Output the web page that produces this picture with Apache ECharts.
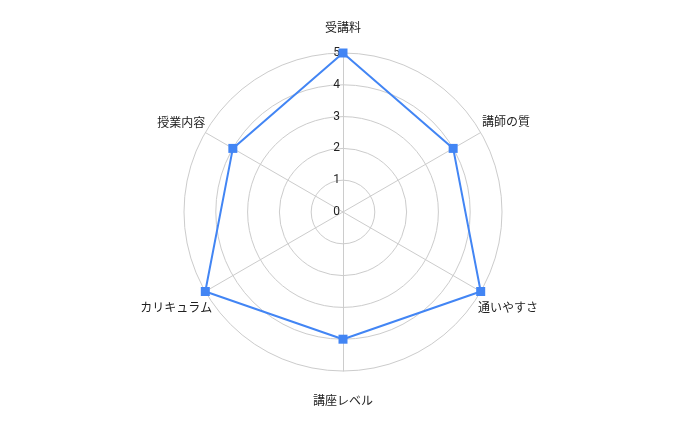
<!DOCTYPE html>
<html>
<head>
    <meta charset="utf-8">
    <title>Radar</title>
    <style>
        html, body { margin: 0; padding: 0; background: #fff; }
        #main { width: 688px; height: 425px; }
    </style>
</head>
<body>
    <div id="main"></div>
    <script type="text/javascript" src="https://cdn.jsdelivr.net/npm/echarts@6/dist/echarts.min.js"></script>
    <script type="text/javascript">
    // 項目（上から反時計回り、ECharts の並び順）
    var categories = ['受講料', '授業内容', 'カリキュラム', '講座レベル', '通いやすさ', '講師の質'];
    var scores = [5, 4, 5, 4, 5, 4];
    var maxScore = 5;
    var tickLabels = ['0', '1', '2', '3', '4', '5'];

    // 項目名の位置調整 (nameGap, padding)
    var nameLayout = [
        { gap: 20, padding: [0, 0, 0, 0] },
        { gap: 0, padding: [0, 0, 21, 0] },
        { gap: -8, padding: [39, 0, 0, 0] },
        { gap: 23, padding: [0, 0, 0, 0] },
        { gap: -3, padding: [34, 0, 0, 0] },
        { gap: 1.5, padding: [0, 0, 21, 0] }
    ];

    var myChart = echarts.init(document.getElementById('main'));

    var rich = {};
    nameLayout.forEach(function (l, i) {
        rich['n' + i] = {
            color: '#222',
            fontSize: 12,
            fontFamily: '"Noto Sans CJK JP", sans-serif',
            padding: l.padding
        };
    });

    var indicators = categories.map(function (name, i) {
        var ind = {
            name: name,
            min: 0,
            max: maxScore,
            nameGap: nameLayout[i].gap
        };
        // 目盛りラベルは一番上の軸だけ
        if (i === 0) {
            ind.axisLabel = {
                show: true,
                color: '#222',
                fontSize: 12,
                margin: 3,
                padding: [0, 0, 14, 0],
                fontFamily: 'Roboto, sans-serif',
                formatter: function (v) { return tickLabels[v] !== undefined ? tickLabels[v] : v; }
            };
        }
        return ind;
    });

    var option = {
        backgroundColor: '#fff',
        textStyle: { fontFamily: '"Noto Sans CJK JP", sans-serif' },
        radar: {
            center: [343, 212],
            radius: 159,
            shape: 'circle',
            splitNumber: 5,
            startAngle: 90,
            axisName: {
                color: '#222',
                fontSize: 12,
                fontFamily: '"Noto Sans CJK JP", sans-serif',
                formatter: function (name) {
                    return '{n' + categories.indexOf(name) + '|' + name + '}';
                },
                rich: rich
            },
            axisLabel: { show: false },
            axisLine: { lineStyle: { color: '#cccccc', width: 1 } },
            splitLine: { lineStyle: { color: '#cccccc', width: 1 } },
            splitArea: { show: false },
            indicator: indicators
        },
        series: [{
            type: 'radar',
            symbol: 'rect',
            symbolSize: 9,
            lineStyle: { color: '#4285f4', width: 2 },
            itemStyle: { color: '#4285f4' },
            data: [{ value: scores, name: '評価' }]
        }]
    };

    myChart.setOption(option);
    </script>
</body>
</html>
